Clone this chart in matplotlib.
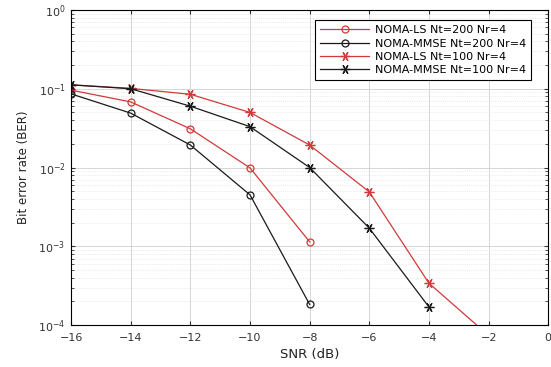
import matplotlib.pyplot as plt
import numpy as np
from matplotlib.ticker import LogLocator, NullFormatter

snr_ls200 = [-16, -14, -12, -10, -8]
ber_ls200 = [0.096, 0.068, 0.031, 0.0099, 0.00114]

snr_mmse200 = [-16, -14, -12, -10, -8]
ber_mmse200 = [0.086, 0.049, 0.0193, 0.0045, 0.000183]

snr_ls100 = [-16, -14, -12, -10, -8, -6, -4, -2]
ber_ls100 = [0.112, 0.101, 0.085, 0.050, 0.0193, 0.0049, 0.00034, 0.000074]

snr_mmse100 = [-16, -14, -12, -10, -8, -6, -4]
ber_mmse100 = [0.112, 0.100, 0.060, 0.033, 0.0100, 0.0017, 0.00017]

labels = ['NOMA-LS Nt=200 Nr=4', 'NOMA-MMSE Nt=200 Nr=4',
          'NOMA-LS Nt=100 Nr=4', 'NOMA-MMSE Nt=100 Nr=4']

red = '#d03a3a'
black = '#1a1a1a'
star = (6, 2, 90)

fig = plt.figure(figsize=(5.51, 3.67), dpi=100)
ax = fig.add_axes([0.129, 0.114, 0.866, 0.859])

ax.semilogy(snr_ls200, ber_ls200, color=red, marker='o', mfc='none', ms=5, mew=0.9, lw=0.9, label=labels[0])
ax.semilogy(snr_mmse200, ber_mmse200, color=black, marker='o', mfc='none', ms=5, mew=0.9, lw=0.9, label=labels[1])
ax.semilogy(snr_ls100, ber_ls100, color=red, marker=star, ms=7, mew=0.9, lw=0.9, label=labels[2])
ax.semilogy(snr_mmse100, ber_mmse100, color=black, marker=star, ms=7, mew=0.9, lw=0.9, label=labels[3])

ax.set_xlim(-16, 0)
ax.set_ylim(1e-4, 1)
ax.set_xticks(np.arange(-16, 1, 2))
ax.yaxis.set_major_locator(LogLocator(base=10, numticks=10))
ax.yaxis.set_minor_locator(LogLocator(base=10, subs=np.arange(2, 10), numticks=20))
ax.yaxis.set_minor_formatter(NullFormatter())

ax.grid(True, which='major', color='#d0d0d0', lw=0.6)
ax.grid(True, which='minor', axis='y', color='#dcdcdc', lw=0.5, ls=':')
ax.tick_params(which='both', direction='in', top=True, right=True, labelsize=8, colors='#333333')
ax.tick_params(which='major', length=3)
ax.tick_params(axis='x', pad=6)
ax.tick_params(axis='y', pad=4)
ax.tick_params(which='minor', length=2)
for s in ax.spines.values():
    s.set_linewidth(0.8)

ax.set_xlabel('SNR (dB)', fontsize=9.5, labelpad=3, color='#222222')
ax.set_ylabel('Bit error rate (BER)', fontsize=8.5, labelpad=6, color='#222222')

leg = ax.legend(loc='upper right', fontsize=8, fancybox=False, framealpha=1,
                edgecolor='black', handlelength=4.4, borderpad=0.45, labelspacing=0.3,
                handletextpad=0.5, bbox_to_anchor=(0.975, 0.985))
leg.get_frame().set_linewidth(0.8)

fig.savefig('out.png', dpi=100)
